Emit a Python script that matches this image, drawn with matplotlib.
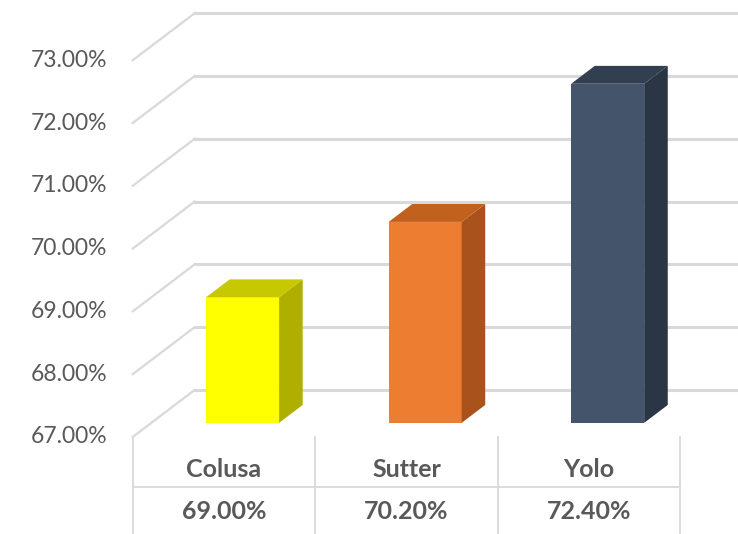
import matplotlib.pyplot as plt
from matplotlib.patches import Polygon
import numpy as np

plt.rcParams['font.family'] = ['Lato', 'DejaVu Sans']

counties = ['Colusa', 'Sutter', 'Yolo']
rates = [69.0, 70.2, 72.4]
value_labels = ['69.00%', '70.20%', '72.40%']
yticks = [67, 68, 69, 70, 71, 72, 73]

front_colors = ['#FFFF00', '#ED7D31', '#44546A']
side_colors = ['#AFAF00', '#A9521B', '#2A3545']
top_colors = ['#C8C800', '#C2601E', '#323F50']

grid_c = '#D9D9D9'
text_c = '#595959'

# depth direction of the fake 3d box (data units)
DX, DY = 0.34, 0.75
base = 67
bar_w = 0.4
d0, d1 = 0.3, 0.68  # front/back depth of the bars

fig = plt.figure(figsize=(7.38, 5.34), dpi=100)
ax = fig.add_axes([0, 0, 1, 1])
ax.set_xlim(-1.227, 2.816)
ax.set_ylim(65.455, 73.959)
ax.axis('off')

left = -0.5
right = 2.816

# back wall gridlines + side wall diagonals
for g in yticks:
    ax.plot([left, left + DX], [g, g + DY], color=grid_c, lw=1.6, zorder=1)
    ax.plot([left + DX, right], [g + DY, g + DY], color=grid_c, lw=2.2, zorder=1)
    ax.text(-0.64, g, f'{g:.2f}%', ha='right', va='center',
            fontsize=16.5, color=text_c)

# bars
for i, (v, fc, sc, tc) in enumerate(zip(rates, front_colors, side_colors, top_colors)):
    x0 = i - bar_w / 2 + d0 * DX
    x1 = x0 + bar_w
    yb = base + d0 * DY
    yt = v + d0 * DY
    ddx = (d1 - d0) * DX
    ddy = (d1 - d0) * DY
    ax.bar(x0, v - base, bottom=yb, width=bar_w, align='edge', color=fc,
           zorder=3, linewidth=0)
    side = Polygon([(x1, yb), (x1 + ddx, yb + ddy), (x1 + ddx, yt + ddy), (x1, yt)],
                   closed=True, facecolor=sc, edgecolor='none', zorder=3)
    top = Polygon([(x0, yt), (x1, yt), (x1 + ddx, yt + ddy), (x0 + ddx, yt + ddy)],
                  closed=True, facecolor=tc, edgecolor='none', zorder=3)
    ax.add_patch(side)
    ax.add_patch(top)

# data table
row_line = 66.2
for k in range(len(counties) + 1):
    ax.plot([k - 0.5, k - 0.5], [base, 65.4], color=grid_c, lw=1.3, zorder=2)
ax.plot([-0.5, len(counties) - 0.5], [row_line, row_line], color=grid_c, lw=1.3, zorder=2)
for i, (c, lab) in enumerate(zip(counties, value_labels)):
    ax.text(i, 66.49, c, ha='center', va='center', fontsize=18,
            fontweight='bold', color=text_c)
    ax.text(i, 65.81, lab, ha='center', va='center', fontsize=18,
            fontweight='bold', color=text_c)

fig.savefig('out.png', dpi=100)
